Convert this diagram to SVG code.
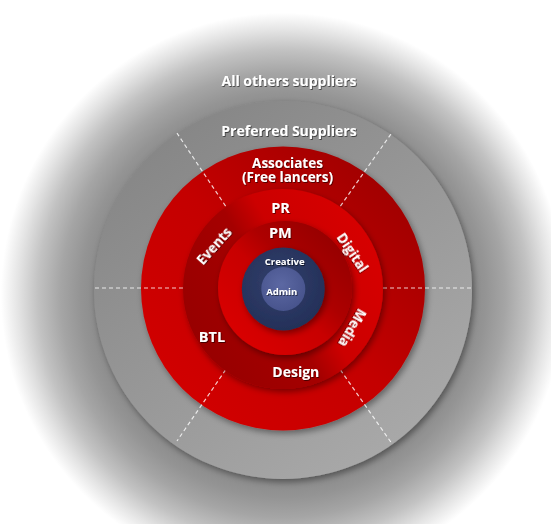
<svg xmlns="http://www.w3.org/2000/svg" width="551" height="524" viewBox="0 0 551 524">
  <defs>
    <radialGradient id="bgGrad" gradientUnits="userSpaceOnUse" cx="283" cy="295" r="285">
      <stop offset="0" stop-color="#8a8a8a"/>
      <stop offset="0.66" stop-color="#8c8c8c"/>
      <stop offset="0.71" stop-color="#949494"/>
      <stop offset="0.78" stop-color="#a5a5a5"/>
      <stop offset="0.86" stop-color="#c2c2c2"/>
      <stop offset="0.93" stop-color="#e4e4e4"/>
      <stop offset="0.99" stop-color="#ffffff"/>
    </radialGradient>
    <linearGradient id="prefGrad" x1="0.2" y1="0.1" x2="0.8" y2="0.9">
      <stop offset="0" stop-color="#878787"/>
      <stop offset="1" stop-color="#a8a8a8"/>
    </linearGradient>
    <linearGradient id="assocGrad" x1="0.1" y1="0.9" x2="0.9" y2="0.1">
      <stop offset="0" stop-color="#d20000"/>
      <stop offset="0.5" stop-color="#c40000"/>
      <stop offset="1" stop-color="#9e0000"/>
    </linearGradient>
    <linearGradient id="dGrad" x1="0.07" y1="0.75" x2="0.93" y2="0.25">
      <stop offset="0" stop-color="#980000"/>
      <stop offset="0.44" stop-color="#a50000"/>
      <stop offset="0.6" stop-color="#cc0000"/>
      <stop offset="1" stop-color="#d60000"/>
    </linearGradient>
    <linearGradient id="pmGrad" x1="0.15" y1="0.85" x2="0.85" y2="0.15">
      <stop offset="0" stop-color="#d80000"/>
      <stop offset="0.45" stop-color="#c80000"/>
      <stop offset="0.65" stop-color="#ad0000"/>
      <stop offset="1" stop-color="#980000"/>
    </linearGradient>
    <radialGradient id="navyGrad" cx="0.45" cy="0.42" r="0.6">
      <stop offset="0" stop-color="#34406d"/>
      <stop offset="1" stop-color="#233058"/>
    </radialGradient>
    <radialGradient id="adminGrad" cx="0.45" cy="0.4" r="0.6">
      <stop offset="0" stop-color="#5c68a3"/>
      <stop offset="1" stop-color="#48548d"/>
    </radialGradient>
    <filter id="shadow" x="-20%" y="-20%" width="140%" height="140%">
      <feGaussianBlur in="SourceAlpha" stdDeviation="3"/>
      <feOffset dx="2" dy="3" result="b"/>
      <feFlood flood-color="#000" flood-opacity="0.4"/>
      <feComposite in2="b" operator="in"/>
      <feMerge><feMergeNode/><feMergeNode in="SourceGraphic"/></feMerge>
    </filter>
    <filter id="tshadow" x="-20%" y="-40%" width="140%" height="180%">
      <feDropShadow dx="0.8" dy="1" stdDeviation="0.7" flood-color="#000" flood-opacity="0.55"/>
    </filter>
  </defs>
  <style>
    .lbl { fill: #ffffff; font-family: "Open Sans", "Noto Sans", "DejaVu Sans", sans-serif; font-weight: 700; text-anchor: middle; filter: url(#tshadow); }
    .big { font-size: 14px; }
    .small { font-size: 9.5px; }
    .div { stroke: #ffffff; stroke-opacity: 0.8; stroke-width: 1.2; stroke-dasharray: 4 3; fill: none; }
  </style>

  <rect x="0" y="0" width="551" height="524" fill="#ffffff"/>

  <g id="all-others">
    <circle cx="283" cy="292" r="290" fill="url(#bgGrad)"/>
    <text class="lbl big" x="289" y="86">All others suppliers</text>
  </g>

  <g id="preferred">
    <circle cx="283" cy="290" r="189" fill="url(#prefGrad)" filter="url(#shadow)"/>
    <text class="lbl big" x="289" y="136">Preferred Suppliers</text>
  </g>

  <g id="associates">
    <circle cx="283" cy="288.5" r="142" fill="url(#assocGrad)" filter="url(#shadow)"/>
    <text class="lbl" font-size="13.5"><tspan x="287.5" y="167.5">Associates</tspan><tspan x="287.5" y="181.5">(Free lancers)</tspan></text>
  </g>

  <g id="dividers">
    <line class="div" x1="383" y1="288" x2="473" y2="288"/>
    <line class="div" x1="183" y1="288" x2="93" y2="288"/>
    <line class="div" x1="340.4" y1="206.1" x2="391.5" y2="133.2"/>
    <line class="div" x1="225.6" y1="206.1" x2="177" y2="133.2"/>
    <line class="div" x1="340.4" y1="369.9" x2="391.5" y2="443"/>
    <line class="div" x1="225.6" y1="369.9" x2="177" y2="441"/>
  </g>

  <g id="services-ring">
    <circle cx="283" cy="289" r="100" fill="url(#dGrad)" filter="url(#shadow)"/>
  </g>

  <g id="pm">
    <circle cx="285" cy="288" r="67" fill="url(#pmGrad)" filter="url(#shadow)"/>
    <text class="lbl" font-size="14.5" x="280.3" y="237.7">PM</text>
  </g>

  <g id="creative">
    <circle cx="283.3" cy="289" r="41.5" fill="url(#navyGrad)" filter="url(#shadow)"/>
    <text class="lbl small" x="284.7" y="265">Creative</text>
  </g>

  <g id="admin">
    <circle cx="283.3" cy="289" r="22" fill="url(#adminGrad)"/>
    <text class="lbl small" x="281.7" y="295">Admin</text>
  </g>

  <g id="seg-pr"><text class="lbl" font-size="14.5" x="280.5" y="212.7">PR</text></g>
  <g id="seg-events"><text class="lbl" font-size="13.5" transform="translate(214,246) rotate(-48)" x="0" y="4.5">Events</text></g>
  <g id="seg-digital"><text class="lbl" font-size="13.5" transform="translate(352.5,252.5) rotate(56)" x="0" y="4.5">Digital</text></g>
  <g id="seg-media"><text class="lbl" font-size="13.5" transform="translate(352.5,328) rotate(120)" x="0" y="4.5">Media</text></g>
  <g id="seg-btl"><text class="lbl" font-size="14.5" x="212" y="341.7">BTL</text></g>
  <g id="seg-design"><text class="lbl big" x="295.8" y="376.7">Design</text></g>
</svg>
